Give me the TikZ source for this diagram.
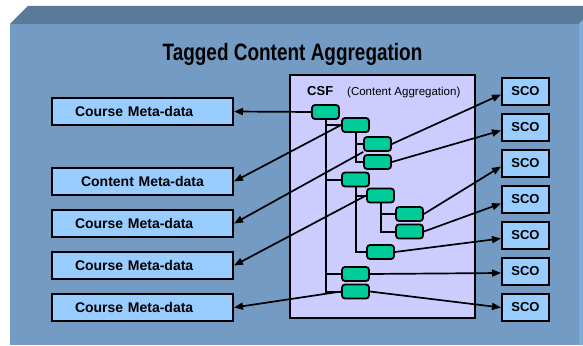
\documentclass[tikz,border=0pt]{standalone}
\usepackage{fontspec}
\setmainfont{Liberation Sans}
\newfontfamily\narrowfont[FakeStretch=0.8]{Liberation Sans}
\usepackage{tikz}
\usetikzlibrary{arrows.meta,positioning}
\definecolor{frontblue}{RGB}{116,155,196}
\definecolor{topblue}{RGB}{90,122,153}
\definecolor{sideblue}{RGB}{128,170,216}
\definecolor{boxblue}{RGB}{153,204,255}
\definecolor{csflilac}{RGB}{204,204,255}
\definecolor{itemgreen}{RGB}{0,204,153}
\pgfdeclarelayer{back}
\pgfdeclarelayer{wires}
\pgfsetlayers{back,wires,main}
\tikzset{
meta/.style={draw, line width=2pt, fill=boxblue, text width=135pt, inner xsep=23pt,
  minimum height=27pt, font=\bfseries\fontsize{14}{16}\selectfont},
sco/.style={draw, line width=2pt, fill=boxblue, minimum width=47pt, minimum height=27pt,
  inner sep=0pt, font=\bfseries\fontsize{13}{15}\selectfont},
item/.style={draw, line width=1.8pt, fill=itemgreen, rounded corners=3pt,
  minimum width=27pt, minimum height=14pt, inner sep=0pt},
tree/.style={line width=2pt},
link/.style={line width=1.7pt, -{Triangle[length=9pt,width=7pt]}},
}

\begin{document}
\begin{tikzpicture}[x=1pt, y=-1pt]
\useasboundingbox (0,0) rectangle (583,345);
\begin{pgfonlayer}{back}
  \fill[topblue] (10,24) -- (28,6) -- (583,6) -- (583,20) -- (579,24) -- cycle;
  \fill[sideblue] (579,24) -- (583,20) -- (583,345) -- (579,345) -- cycle;
  \fill[frontblue] (10,24) rectangle (579,345);
  \node[draw, line width=2pt, fill=csflilac, minimum width=185pt, minimum height=243pt]
    (csf) at (382.5,196.5) {};
\end{pgfonlayer}

\node[anchor=base, font=\narrowfont\bfseries\fontsize{23.7}{26}\selectfont] (title) at (292.5,60)
  {Tagged Content Aggregation};
\node[anchor=base west, inner sep=0pt, font=\bfseries\fontsize{13}{15}\selectfont] (csfname) at (307,95) {CSF};
\node[anchor=base west, inner sep=0pt, font=\fontsize{11.5}{13}\selectfont] (csfkind) at (347,95) {(Content Aggregation)};

\node[meta, align=left] (cm1) at (142.5,111.5) {Course Meta-data};
\node[meta, align=center] (cm2) at (142.5,181.5) {Content Meta-data};
\node[meta, align=left] (cm3) at (142.5,223.5) {Course Meta-data};
\node[meta, align=left] (cm4) at (142.5,265.5) {Course Meta-data};
\node[meta, align=left] (cm5) at (142.5,307.5) {Course Meta-data};

\node[sco] (sco1) at (525.5,91.5) {SCO};
\node[sco] (sco2) at (525.5,127.5) {SCO};
\node[sco] (sco3) at (525.5,163.5) {SCO};
\node[sco] (sco4) at (525.5,199.5) {SCO};
\node[sco] (sco5) at (525.5,235.5) {SCO};
\node[sco] (sco6) at (525.5,271.5) {SCO};
\node[sco] (sco7) at (525.5,307.5) {SCO};

\node[item] (g1) at (325.5,112) {};
\node[item] (g2) at (355.5,125) {};
\node[item] (g3) at (377.5,144) {};
\node[item] (g4) at (377.5,162) {};
\node[item] (g5) at (355.5,179.5) {};
\node[item] (g6) at (380.5,195.5) {};
\node[item] (g7) at (409.5,214) {};
\node[item] (g8) at (409.5,231.5) {};
\node[item] (g9) at (380.5,252) {};
\node[item] (g10) at (355.5,274) {};
\node[item] (g11) at (355.5,291.5) {};

\begin{pgfonlayer}{wires}
  \draw[tree] (g1.south) |- (g2.west) (g1.south) |- (g5.west)
    (g1.south) |- (g10.west) (g1.south) |- (g11.west);
  \draw[tree] (g2.south) |- (g3.west) (g2.south) |- (g4.west);
  \draw[tree] (g5.south) |- (g6.west) (g5.south) |- (g9.west);
  \draw[tree] (g6.south) |- (g7.west) (g6.south) |- (g8.west);
  \draw[link] (g1.west) -- (cm1.east);
  \draw[link] (g2.west) -- (cm2.east);
  \draw[link] (g3) -- (cm3.east);
  \draw[link] (g6.west) -- (cm4.east);
  \draw[link] (g11.west) -- (cm5.east);
  \draw[link] (g3.east) -- ([yshift=-3pt]sco1.west);
  \draw[link] (g4.east) -- ([yshift=-3pt]sco2.west);
  \draw[link] (g7.east) -- ([yshift=-3pt]sco3.west);
  \draw[link] (g8.east) -- ([yshift=-4pt]sco4.west);
  \draw[link] (g9.east) -- ([yshift=-3pt]sco5.west);
  \draw[link] (g10.east) -- ([yshift=-1.5pt]sco6.west);
  \draw[link] (g11.east) -- (sco7.west);
\end{pgfonlayer}
\end{tikzpicture}
\end{document}
